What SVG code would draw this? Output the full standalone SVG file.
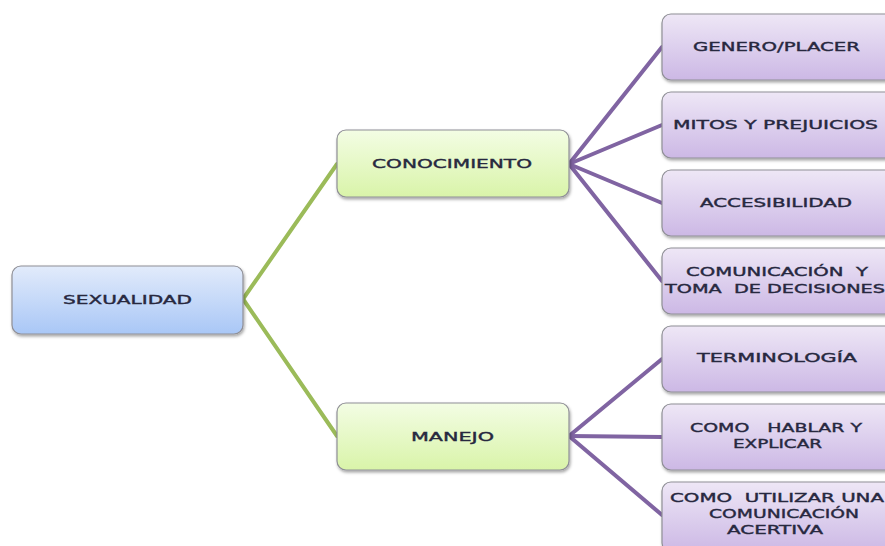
<svg xmlns="http://www.w3.org/2000/svg" width="885" height="546" viewBox="0 0 885 546">
<style>
.t{font-family:"DejaVu Sans","Liberation Sans",sans-serif;font-size:13px;fill:#27283f;stroke:#27283f;stroke-width:0.4;text-anchor:middle;dominant-baseline:central;white-space:pre}
.b{stroke:#8f8f96;stroke-width:1.2}
.g{fill:none;stroke:#9bbb59;stroke-width:4;stroke-linecap:round}
.p{fill:none;stroke:#8064a2;stroke-width:4;stroke-linecap:round}
</style>
<defs>
<linearGradient id="gb" x1="0" y1="0" x2="0" y2="1"><stop offset="0" stop-color="#e2ebfb"/><stop offset="1" stop-color="#a9c7f6"/></linearGradient>
<linearGradient id="gg" x1="0" y1="0" x2="0" y2="1"><stop offset="0" stop-color="#f3fde4"/><stop offset="1" stop-color="#d9f4a9"/></linearGradient>
<linearGradient id="gp" x1="0" y1="0" x2="0" y2="1"><stop offset="0" stop-color="#eee7f6"/><stop offset="1" stop-color="#ccb8e5"/></linearGradient>
<filter id="sh" x="-10%" y="-10%" width="125%" height="130%"><feDropShadow dx="1" dy="2" stdDeviation="1.5" flood-color="#000" flood-opacity="0.35"/></filter>
</defs>
<g id="connectors">
<path class="g" d="M243,299 L337,164"/>
<path class="g" d="M243,299 L337,436"/>
<path class="p" d="M569,164 L662,47"/>
<path class="p" d="M569,164 L662,125"/>
<path class="p" d="M569,164 L662,203"/>
<path class="p" d="M569,164 L662,281"/>
<path class="p" d="M569,436 L662,359"/>
<path class="p" d="M569,436 L662,437"/>
<path class="p" d="M569,436 L662,515"/>
</g>
<g id="sexualidad"><rect class="b" x="12" y="266" width="231" height="68" rx="9" fill="url(#gb)" filter="url(#sh)"/><text class="t" x="127.5" y="299" textLength="129" lengthAdjust="spacingAndGlyphs">SEXUALIDAD</text></g>
<g id="conocimiento"><rect class="b" x="337" y="130" width="232" height="67" rx="9" fill="url(#gg)" filter="url(#sh)"/><text class="t" x="452" y="163" textLength="160" lengthAdjust="spacingAndGlyphs">CONOCIMIENTO</text></g>
<g id="manejo"><rect class="b" x="337" y="403" width="232" height="67" rx="9" fill="url(#gg)" filter="url(#sh)"/><text class="t" x="452.5" y="436" textLength="83" lengthAdjust="spacingAndGlyphs">MANEJO</text></g>
<g id="genero"><rect class="b" x="662" y="14" width="240" height="66" rx="9" fill="url(#gp)" filter="url(#sh)"/><text class="t" x="776.5" y="46" textLength="167" lengthAdjust="spacingAndGlyphs">GENERO/PLACER</text></g>
<g id="mitos"><rect class="b" x="662" y="92" width="240" height="66" rx="9" fill="url(#gp)" filter="url(#sh)"/><text class="t" x="775.5" y="124" textLength="205" lengthAdjust="spacingAndGlyphs">MITOS Y PREJUICIOS</text></g>
<g id="accesibilidad"><rect class="b" x="662" y="170" width="240" height="66" rx="9" fill="url(#gp)" filter="url(#sh)"/><text class="t" x="776" y="202" textLength="152" lengthAdjust="spacingAndGlyphs">ACCESIBILIDAD</text></g>
<g id="comunicacion"><rect class="b" x="662" y="248" width="240" height="66" rx="9" fill="url(#gp)" filter="url(#sh)"/><text class="t" x="777" y="271" textLength="182" lengthAdjust="spacingAndGlyphs">COMUNICACIÓN  Y</text><text class="t" x="775" y="288" textLength="220" lengthAdjust="spacingAndGlyphs">TOMA  DE DECISIONES</text></g>
<g id="terminologia"><rect class="b" x="662" y="326" width="240" height="66" rx="9" fill="url(#gp)" filter="url(#sh)"/><text class="t" x="777" y="357" textLength="160" lengthAdjust="spacingAndGlyphs">TERMINOLOGÍA</text></g>
<g id="hablar"><rect class="b" x="662" y="404" width="240" height="66" rx="9" fill="url(#gp)" filter="url(#sh)"/><text class="t" x="776" y="427" textLength="172" lengthAdjust="spacingAndGlyphs">COMO   HABLAR Y</text><text class="t" x="777.5" y="443" textLength="89" lengthAdjust="spacingAndGlyphs">EXPLICAR</text></g>
<g id="utilizar"><rect class="b" x="662" y="482" width="240" height="70" rx="9" fill="url(#gp)" filter="url(#sh)"/><text class="t" x="777" y="497" textLength="214" lengthAdjust="spacingAndGlyphs">COMO  UTILIZAR UNA</text><text class="t" x="784" y="513" textLength="150" lengthAdjust="spacingAndGlyphs">COMUNICACIÓN</text><text class="t" x="775" y="529" textLength="96" lengthAdjust="spacingAndGlyphs">ACERTIVA</text></g>
</svg>
